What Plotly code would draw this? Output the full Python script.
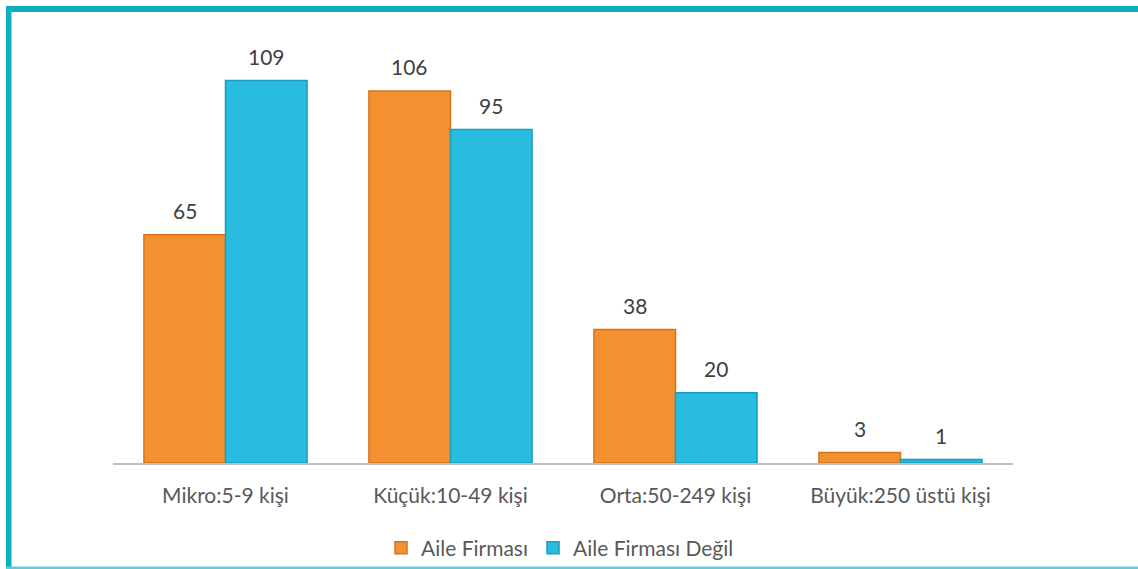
import plotly.graph_objects as go

categories = ["Mikro:5-9 kişi", "Küçük:10-49 kişi", "Orta:50-249 kişi", "Büyük:250 üstü kişi"]
series_names = ["Aile Firması", "Aile Firması Değil"]
aile = [65, 106, 38, 3]
aile_degil = [109, 95, 20, 1]

W, H = 1138, 569
L, R, T, B = 113, 125, 42, 106
PW, PH = W - L - R, H - T - B

def px(x):
    return (x - L) / PW

def py(y):
    return (H - B - y) / PH

fig = go.Figure()
fig.add_trace(go.Bar(x=categories, y=aile, name=series_names[0],
                     marker=dict(color="#F39130", line=dict(color="#D8731C", width=1.5))))
fig.add_trace(go.Bar(x=categories, y=aile_degil, name=series_names[1],
                     marker=dict(color="#28BCE0", line=dict(color="#1B9CC0", width=1.5))))

half = PW / len(categories) * (1 - 0.275) / 4
for vals, sh in ((aile, -half), (aile_degil, half)):
    for c, v in zip(categories, vals):
        fig.add_annotation(x=c, y=v, text=str(v), showarrow=False, xshift=sh, yshift=24,
                           yanchor="middle", font=dict(size=21, color="#404040", family="Lato"))

border = "#0BAFBD"
fig.add_shape(type="rect", xref="paper", yref="paper", x0=px(6), x1=px(W), y0=py(12), y1=py(6),
              fillcolor=border, line_width=0, layer="above")
fig.add_shape(type="rect", xref="paper", yref="paper", x0=px(6), x1=px(11.5), y0=py(H), y1=py(6),
              fillcolor=border, line_width=0, layer="above")
fig.add_shape(type="rect", xref="paper", yref="paper", x0=px(6), x1=px(W), y0=py(H), y1=py(566.5),
              fillcolor="#63CCD5", line_width=0, layer="above")

fig.update_layout(
    template="none",
    width=W, height=H,
    margin=dict(l=L, r=R, t=T, b=B, autoexpand=False),
    paper_bgcolor="white", plot_bgcolor="white",
    barmode="group", bargap=0.275, bargroupgap=0.0,
    font=dict(family="Lato", color="#595959"),
    xaxis=dict(showline=True, linecolor="#C0C0C0", linewidth=1.5, ticks="", automargin=False,
               tickfont=dict(size=21, color="#595959"), ticklabelstandoff=13,
               showgrid=False),
    yaxis=dict(range=[0, PH / 3.51], visible=False, showgrid=False, zeroline=False),
    legend=dict(orientation="h", x=px(560), xanchor="center", y=py(548), yanchor="middle",
                font=dict(size=21, color="#595959"), itemwidth=30, traceorder="normal",
                bgcolor="rgba(0,0,0,0)"),
    showlegend=True,
)

fig.write_html("out.html", config={"displayModeBar": False},
               post_script="document.body.style.margin='0';document.body.style.overflow='hidden';")
